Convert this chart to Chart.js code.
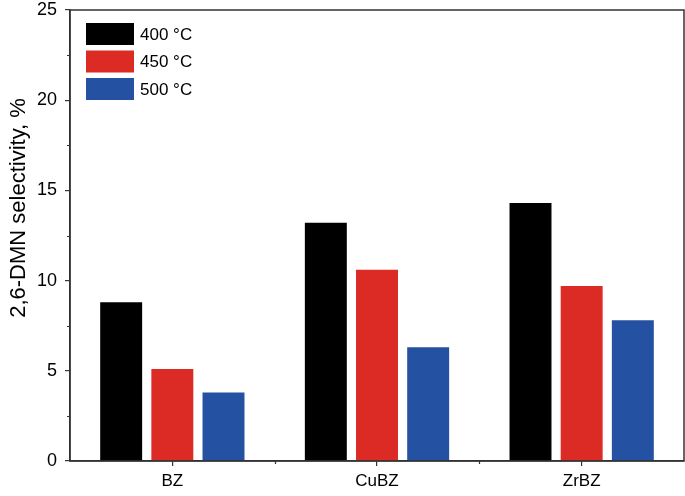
<!DOCTYPE html>
<html>
<head>
<meta charset="utf-8">
<script src="https://cdn.jsdelivr.net/npm/chart.js@4/dist/chart.umd.min.js"></script>
<style>
html,body{margin:0;padding:0;background:#fff;}
#wrap{width:685px;height:496px;position:relative;}
</style>
</head>
<body>
<div id="wrap"><canvas id="c" width="685" height="496"></canvas></div>
<script>
const categories = ['BZ', 'CuBZ', 'ZrBZ'];
const seriesLabels = ['400 °C', '450 °C', '500 °C'];
const values400 = [8.8, 13.2, 14.3];
const values450 = [5.1, 10.6, 9.7];
const values500 = [3.8, 6.3, 7.8];
const yTicks = [0, 5, 10, 15, 20, 25];
const yMinorTicks = [2.5, 7.5, 12.5, 17.5, 22.5];
const yTitle = '2,6-DMN selectivity, %';
const colors = ['#000000', '#DC2B24', '#2451A2'];

const AXIS_COLOR = '#333333';
const FONT = 'Liberation Sans, Arial, sans-serif';

const framePlugin = {
  id: 'frame',
  afterDraw(chart) {
    const ctx = chart.ctx;
    const a = chart.chartArea;
    const x = chart.scales.x, y = chart.scales.y;
    ctx.save();
    ctx.strokeStyle = AXIS_COLOR;
    ctx.lineWidth = 1.5;
    ctx.strokeRect(a.left, a.top, a.right - a.left, a.bottom - a.top);
    // y minor ticks
    ctx.lineWidth = 1.2;
    ctx.beginPath();
    yMinorTicks.forEach(v => {
      const py = Math.round(y.getPixelForValue(v)) + 0.5;
      ctx.moveTo(a.left - 3, py); ctx.lineTo(a.left, py);
    });
    // x minor ticks at category boundaries
    for (let i = 0; i < categories.length - 1; i++) {
      const px = Math.round((x.getPixelForValue(i) + x.getPixelForValue(i + 1)) / 2) + 0.5;
      ctx.moveTo(px, a.bottom); ctx.lineTo(px, a.bottom + 3);
    }
    ctx.stroke();
    // legend
    ctx.font = '17px ' + FONT;
    ctx.textBaseline = 'middle';
    ctx.textAlign = 'left';
    chart.data.datasets.forEach((ds, i) => {
      const bx = a.left + 16, by = a.top + 13 + i * 27.5;
      ctx.fillStyle = ds.backgroundColor;
      ctx.fillRect(bx, by, 48, 22);
      ctx.fillStyle = '#000';
      ctx.fillText(ds.label, bx + 54, by + 12);
    });
    // y-axis title
    ctx.translate(19, 208);
    ctx.rotate(-Math.PI / 2);
    ctx.font = '22px ' + FONT;
    ctx.textAlign = 'center';
    ctx.textBaseline = 'middle';
    ctx.fillText(yTitle, 0, 0);
    ctx.restore();
  }
};

new Chart(document.getElementById('c'), {
  type: 'bar',
  data: {
    labels: categories,
    datasets: [
      { label: seriesLabels[0], data: values400, backgroundColor: colors[0] },
      { label: seriesLabels[1], data: values450, backgroundColor: colors[1] },
      { label: seriesLabels[2], data: values500, backgroundColor: colors[2] }
    ]
  },
  options: {
    responsive: false,
    animation: false,
    devicePixelRatio: 1,
    layout: { padding: { left: 0, right: 1, top: 10, bottom: 0 } },
    datasets: { bar: { categoryPercentage: 0.75, barPercentage: 0.82 } },
    plugins: { legend: { display: false }, tooltip: { enabled: false } },
    scales: {
      x: {
        offset: true,
        grid: { display: true, drawOnChartArea: false, offset: false, tickLength: 5, color: AXIS_COLOR, lineWidth: 1.2 },
        border: { display: true, color: AXIS_COLOR, width: 1.5 },
        ticks: { color: '#000', font: { size: 17, family: FONT }, padding: 5 },
        afterFit(s) { s.height = 35; s.paddingLeft = 0; s.paddingRight = 0; }
      },
      y: {
        min: 0, max: 25,
        afterBuildTicks(s) { s.ticks = yTicks.map(v => ({ value: v })); },
        grid: { display: true, drawOnChartArea: false, tickLength: 5, color: AXIS_COLOR, lineWidth: 1.2 },
        border: { display: true, color: AXIS_COLOR, width: 1.5 },
        ticks: { color: '#000', font: { size: 18, family: FONT }, padding: 8 },
        afterFit(s) { s.width = 70; s.paddingTop = 0; s.paddingBottom = 0; }
      }
    }
  },
  plugins: [framePlugin]
});
</script>
</body>
</html>
